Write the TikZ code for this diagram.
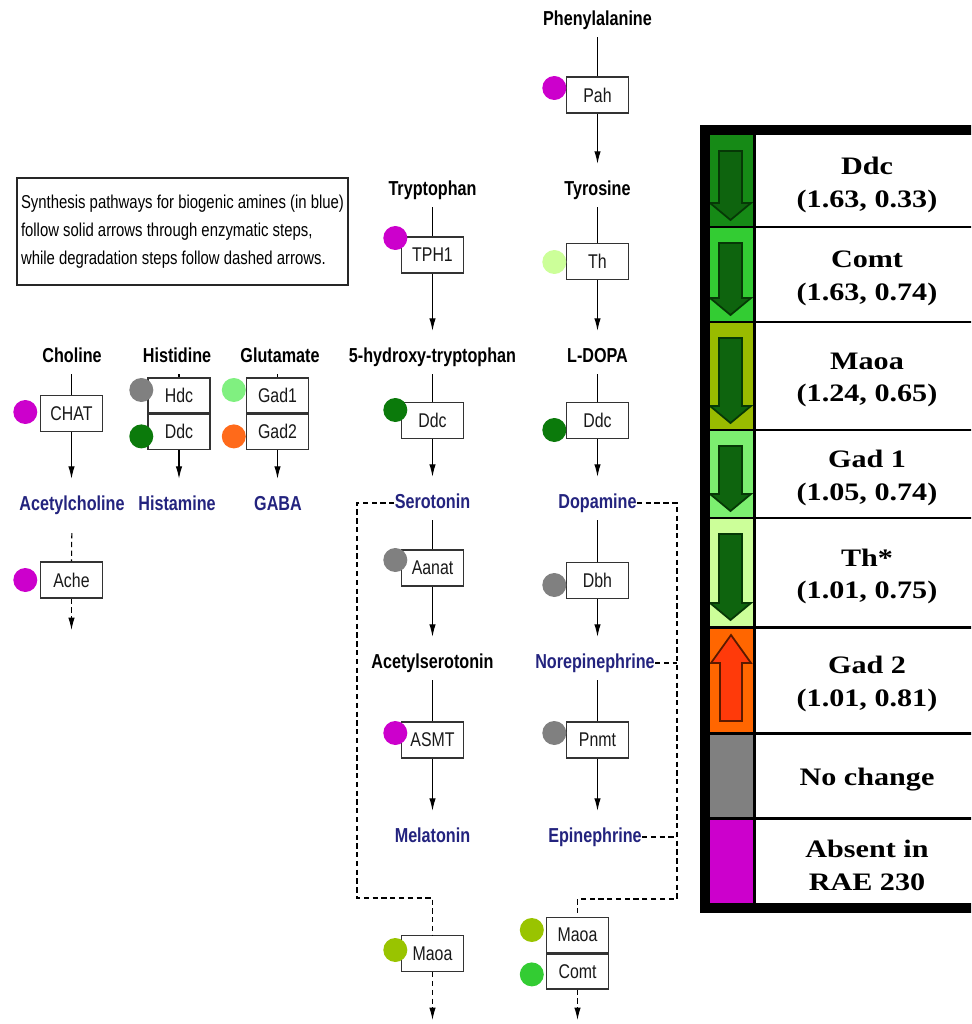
\documentclass[tikz,border=0pt]{standalone}
\usepackage{fontspec}
\usepackage{tikz}
\usetikzlibrary{arrows.meta,positioning}
\newfontfamily\pathfont[FakeStretch=0.8]{Liberation Sans}
\newfontfamily\legfont[FakeStretch=1.2]{Liberation Serif}
\definecolor{EnzMagenta}{HTML}{CC00CC}
\definecolor{EnzGray}{HTML}{808080}
\definecolor{EnzDarkGreen}{HTML}{0B7A0B}
\definecolor{EnzLightGreen}{HTML}{80F080}
\definecolor{EnzOrange}{HTML}{FF6A1A}
\definecolor{EnzPaleGreen}{HTML}{CCFF99}
\definecolor{EnzOlive}{HTML}{99C400}
\definecolor{EnzGreen}{HTML}{33CC33}
\definecolor{AmineBlue}{HTML}{23237E}
\definecolor{LegDdc}{HTML}{168A16}
\definecolor{LegMaoa}{HTML}{99BB00}
\definecolor{LegGadI}{HTML}{7CEF70}
\definecolor{LegGadII}{HTML}{FF6600}
\definecolor{ArrowGreen}{HTML}{0E640E}
\definecolor{ArrowGreenDark}{HTML}{063806}
\definecolor{ArrowRed}{HTML}{FF3A0A}
\definecolor{ArrowRedDark}{HTML}{5A1A00}

\begin{document}
\begin{tikzpicture}[
  x=0.02cm, y=-0.02cm,
  % metabolite label (black) and biogenic amine (blue)
  metab/.style={font=\pathfont\bfseries\fontsize{11.5}{13}\selectfont,
                inner sep=0pt, text height=9pt, text depth=2.5pt},
  amine/.style={metab, text=AmineBlue},
  % enzyme box
  enz/.style={draw=black!80, fill=white, line width=0.8pt,
              minimum width=1.24cm, minimum height=0.72cm, inner sep=0pt,
              font=\pathfont\fontsize{11.3}{13}\selectfont, text=black!90},
  % expression dot at the enzyme box
  expr/.style={circle, fill=#1, minimum size=0.48cm, inner sep=0pt},
  % connectors
  link/.style={line width=0.6pt, shorten <=4pt},
  syn/.style={-{Latex[length=7pt,width=3.6pt]}, line width=0.6pt, shorten >=9pt},
  degr/.style={line width=0.6pt, dash pattern=on 3pt off 2pt},
  % note and legend
  note/.style={draw=black!85, line width=0.8pt, align=left,
               minimum width=6.62cm, minimum height=2.14cm, inner sep=0pt,
               font=\pathfont\fontsize{10.6}{15.9}\selectfont},
  legtext/.style={align=center, inner sep=0pt,
                  font=\legfont\bfseries\fontsize{14.3}{18.4}\selectfont},
  legrule/.style={line width=1.7pt},
  legarrow/.style={fill=ArrowGreen, draw=ArrowGreenDark, line width=1pt},
]
\useasboundingbox (0,0) rectangle (971,1024);
\clip (0,0) rectangle (971,1024);

%% ── Column x-centres ─────────────────────────────────────────────────────
\def\xl{432.5}  % tryptophan column
\def\xr{597.5}  % tyrosine column

%% ── Note ─────────────────────────────────────────────────────────────────
\node[note] (note) at (182.5,231.5)
  {Synthesis pathways for biogenic amines (in blue)\\
   follow solid arrows through enzymatic steps,\\
   while degradation steps follow dashed arrows.};

%% ── Metabolites ──────────────────────────────────────────────────────────
\node[metab] (choline)   at (72,357)  {Choline};
\node[metab] (histidine) at (177,357) {Histidine};
\node[metab] (glutamate) at (280,357) {Glutamate};
\node[amine] (acetylch)  at (72,505)  {Acetylcholine};
\node[amine] (histamine) at (177,505) {Histamine};
\node[amine] (gaba)      at (278,505) {GABA};

\node[metab] (phe)    at (\xr,20)  {Phenylalanine};
\node[metab] (trp)    at (\xl,190) {Tryptophan};
\node[metab] (tyr)    at (\xr,190) {Tyrosine};
\node[metab] (htp)    at (\xl,357) {5-hydroxy-tryptophan};
\node[metab] (ldopa)  at (\xr,357) {L-DOPA};
\node[amine] (sero)   at (\xl,503) {Serotonin};
\node[amine] (dopa)   at (\xr,503) {Dopamine};
\node[metab] (acser)  at (\xl,663) {Acetylserotonin};
\node[amine] (norepi) at (595,663) {Norepinephrine};
\node[amine] (mela)   at (\xl,837) {Melatonin};
\node[amine] (epi)    at (595,837) {Epinephrine};

%% ── Enzyme boxes ─────────────────────────────────────────────────────────
\node[enz] (chat)  at (71.5,413.5) {CHAT};
\node[enz] (ache)  at (71.5,580)   {Ache};
\node[enz, minimum height=0.7cm] (hdc)  at (179,395.5)   {Hdc};
\node[enz, minimum height=0.7cm, below=0pt of hdc]  (ddch) {Ddc};
\node[enz, minimum height=0.7cm] (gad1) at (277.5,395.5) {Gad1};
\node[enz, minimum height=0.7cm, below=0pt of gad1] (gad2) {Gad2};

\node[enz] (pah)   at (\xr,95)    {Pah};
\node[enz] (tph)   at (\xl,255)   {TPH1};
\node[enz] (th)    at (\xr,261.5) {Th};
\node[enz] (ddcs)  at (\xl,420.5) {Ddc};
\node[enz] (ddcd)  at (\xr,420.5) {Ddc};
\node[enz] (aanat) at (\xl,568)   {Aanat};
\node[enz] (dbh)   at (\xr,580.5) {Dbh};
\node[enz] (asmt)  at (\xl,740)   {ASMT};
\node[enz] (pnmt)  at (\xr,740)   {Pnmt};
\node[enz] (maoas) at (\xl,953.5) {Maoa};
\node[enz, minimum height=0.7cm] (maoad) at (577.5,935) {Maoa};
\node[enz, minimum height=0.7cm, below=0pt of maoad] (comt) {Comt};

%% ── Expression dots ──────────────────────────────────────────────────────
\node[expr=EnzMagenta]    (chatx)  at ([shift={(-14.5,-1.5)}]chat.west)  {};
\node[expr=EnzMagenta]    (achex)  at ([shift={(-14.5,0)}]ache.west)     {};
\node[expr=EnzGray]       (hdcx)   at ([shift={(-6,-5.5)}]hdc.west)      {};
\node[expr=EnzDarkGreen]  (ddchx)  at ([shift={(-6,4.5)}]ddch.west)      {};
\node[expr=EnzLightGreen] (gad1x)  at ([shift={(-12,-5.5)}]gad1.west)    {};
\node[expr=EnzOrange]     (gad2x)  at ([shift={(-12,4.5)}]gad2.west)     {};
\node[expr=EnzMagenta]    (pahx)   at ([shift={(-11.5,-7)}]pah.west)     {};
\node[expr=EnzMagenta]    (tphx)   at ([shift={(-5.5,-17)}]tph.west)     {};
\node[expr=EnzPaleGreen]  (thx)    at ([shift={(-11.5,0.5)}]th.west)     {};
\node[expr=EnzDarkGreen]  (ddcsx)  at ([shift={(-5.5,-10.5)}]ddcs.west)  {};
\node[expr=EnzDarkGreen]  (ddcdx)  at ([shift={(-11.5,9.5)}]ddcd.west)   {};
\node[expr=EnzGray]       (aanatx) at ([shift={(-5.5,-8)}]aanat.west)    {};
\node[expr=EnzGray]       (dbhx)   at ([shift={(-11.5,4.5)}]dbh.west)    {};
\node[expr=EnzMagenta]    (asmtx)  at ([shift={(-5.5,-7)}]asmt.west)     {};
\node[expr=EnzGray]       (pnmtx)  at ([shift={(-11.5,-7)}]pnmt.west)    {};
\node[expr=EnzOlive]      (maoasx) at ([shift={(-5.5,-3.5)}]maoas.west)  {};
\node[expr=EnzOlive]      (maoadx) at ([shift={(-14,-5)}]maoad.west)     {};
\node[expr=EnzGreen]      (comtx)  at ([shift={(-14,3)}]comt.west)       {};

%% ── Substrate to enzyme ──────────────────────────────────────────────────
\foreach \m/\e in {choline/chat,histidine/hdc,glutamate/gad1,phe/pah,trp/tph,
                   tyr/th,htp/ddcs,ldopa/ddcd,sero/aanat,dopa/dbh,acser/asmt,norepi/pnmt}
  \draw[link] (\m.south -| \e) -- (\e.north);

%% ── Enzyme to product ────────────────────────────────────────────────────
\foreach \e/\m in {chat/acetylch,ddch/histamine,gad2/gaba,pah/tyr,tph/htp,th/ldopa,
                   ddcs/sero,ddcd/dopa,aanat/acser,dbh/norepi,asmt/mela,pnmt/epi}
  \draw[syn] (\e.south) -- (\e.south |- \m.north);

%% ── Degradation ──────────────────────────────────────────────────────────
\coordinate (achend) at (71.5,630);
\coordinate (lbend)  at (357,898);
\coordinate (rbend)  at (677,899);
\coordinate (lend)   at (\xl,1020);
\coordinate (rend)   at (577.5,1020);

\draw[degr, shorten <=10pt] (acetylch.south) -- (ache.north);
\draw[degr, -{Latex[length=7pt,width=3.6pt]}] (ache.south) -- (achend);
\draw[degr] (sero.west) -| (lbend) -| (maoas.north);
\draw[degr] (dopa.east) -| (rbend) -| (maoad.north);
\draw[degr] (norepi.east) -- (norepi.east -| rbend);
\draw[degr] (epi.east) -- (epi.east -| rbend);
\draw[degr, -{Latex[length=7pt,width=3.6pt]}] (maoas.south) -- (lend);
\draw[degr, -{Latex[length=7pt,width=3.6pt]}] (comt.south) -- (rend);

%% ── Legend ───────────────────────────────────────────────────────────────
\foreach \t/\b/\c/\txt [count=\i] in {
    135/227/LegDdc/{Ddc\\(1.63, 0.33)},
    227/322/EnzGreen/{Comt\\(1.63, 0.74)},
    322/430/LegMaoa/{Maoa\\(1.24, 0.65)},
    430/518/LegGadI/{Gad 1\\(1.05, 0.74)},
    518/627/EnzPaleGreen/{Th*\\(1.01, 0.75)},
    627/733/LegGadII/{Gad 2\\(1.01, 0.81)},
    733/818/EnzGray/{No change},
    818/905/EnzMagenta/{Absent in\\RAE 230}}
{
  \fill[\c] (710,\t) rectangle (754,\b);
  \node[legtext] (leg\i) at (867,{(\t+\b)/2+4}) {\txt};
}
\foreach \t/\b in {135/227,227/322,322/430,430/518,518/627}
  \draw[legarrow] (719,\t+16) -- (742,\t+16) -- (742,\b-24) -- (751,\b-24)
    -- (730.5,\b-7) -- (710,\b-24) -- (719,\b-24) -- cycle;
\draw[legarrow, fill=ArrowRed, draw=ArrowRedDark]
  (720,721) -- (742,721) -- (742,663) -- (751,663) -- (731,635)
  -- (711,663) -- (720,663) -- cycle;
\foreach \y in {227,322,430,518,627,733,818}
  \draw[legrule] (710,\y) -- (995,\y);
\draw[legrule] (754,135) -- (754,905);
\draw[line width=0.2cm] (705,130) rectangle (1000,908);

\end{tikzpicture}
\end{document}
